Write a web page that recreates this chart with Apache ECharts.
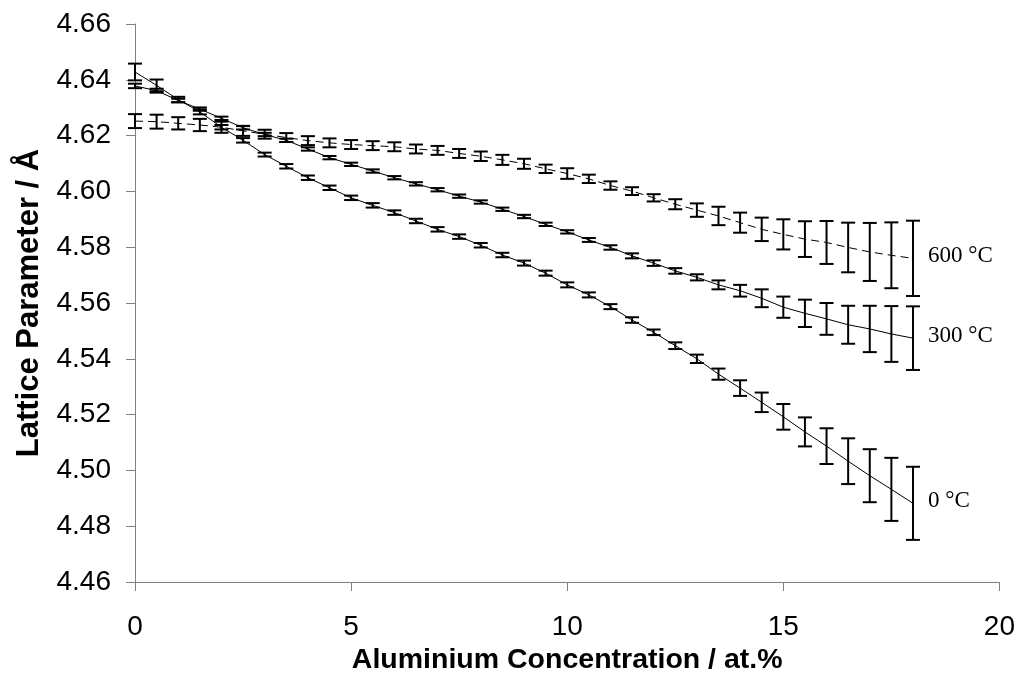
<!DOCTYPE html>
<html>
<head>
<meta charset="utf-8">
<script src="https://cdn.jsdelivr.net/npm/echarts@6/dist/echarts.min.js"></script>
<style>
  html, body { margin: 0; padding: 0; background: #ffffff; }
  #chart { width: 1018px; height: 688px; }
</style>
</head>
<body>
<div id="chart"></div>
<script>
// Aluminium concentration (at.%) of each sample
const concentration = [0, 0.5, 1, 1.5, 2, 2.5, 3, 3.5, 4, 4.5, 5, 5.5, 6, 6.5,
  7, 7.5, 8, 8.5, 9, 9.5, 10, 10.5, 11, 11.5, 12, 12.5, 13, 13.5,
  14, 14.5, 15, 15.5, 16, 16.5, 17, 17.5, 18];

// Lattice parameter (Å) at 0 °C and its uncertainty
const lattice0C = [4.6428, 4.6380, 4.6329, 4.6285, 4.6230, 4.6183, 4.6132, 4.6090, 4.6049, 4.6013, 4.5977, 4.5950, 4.5924, 4.5894,
  4.5864, 4.5838, 4.5807, 4.5772, 4.5743, 4.5707, 4.5665, 4.5629, 4.5587, 4.5539, 4.5495, 4.5447, 4.5400, 4.5345,
  4.5295, 4.5244, 4.5192, 4.5138, 4.5087, 4.5033, 4.4981, 4.4932, 4.4882];
const error0C = [0.0030, 0.0021, 0.0010, 0.0009, 0.0008, 0.0008, 0.0007, 0.0008, 0.0008, 0.0008, 0.0008, 0.0008, 0.0008, 0.0008,
  0.0008, 0.0008, 0.0008, 0.0008, 0.0009, 0.0009, 0.0009, 0.0009, 0.0009, 0.0010, 0.0010, 0.0012, 0.0015, 0.0020,
  0.0028, 0.0035, 0.0046, 0.0052, 0.0064, 0.0082, 0.0095, 0.0113, 0.0131];

// Lattice parameter (Å) at 300 °C and its uncertainty
const lattice300C = [4.6378, 4.6361, 4.6326, 4.6295, 4.6262, 4.6228, 4.6204, 4.6183, 4.6152, 4.6121, 4.6097, 4.6073, 4.6049, 4.6027,
  4.6006, 4.5983, 4.5962, 4.5936, 4.5910, 4.5882, 4.5855, 4.5826, 4.5799, 4.5769, 4.5743, 4.5715, 4.5692, 4.5665,
  4.5644, 4.5617, 4.5585, 4.5563, 4.5543, 4.5522, 4.5507, 4.5489, 4.5474];
const error300C = [0.0008, 0.0007, 0.0006, 0.0006, 0.0006, 0.0006, 0.0006, 0.0006, 0.0006, 0.0006, 0.0006, 0.0006, 0.0006, 0.0006,
  0.0006, 0.0006, 0.0006, 0.0006, 0.0006, 0.0006, 0.0006, 0.0007, 0.0008, 0.0009, 0.0010, 0.0010, 0.0011, 0.0016,
  0.0021, 0.0032, 0.0038, 0.0049, 0.0057, 0.0068, 0.0083, 0.0100, 0.0114];

// Lattice parameter (Å) at 600 °C and its uncertainty
const lattice600C = [4.6252, 4.6250, 4.6244, 4.6238, 4.6230, 4.6217, 4.6205, 4.6193, 4.6182, 4.6174, 4.6168, 4.6164, 4.6160, 4.6152,
  4.6147, 4.6136, 4.6126, 4.6113, 4.6099, 4.6081, 4.6064, 4.6045, 4.6021, 4.6001, 4.5977, 4.5954, 4.5933, 4.5912,
  4.5888, 4.5864, 4.5846, 4.5829, 4.5817, 4.5799, 4.5783, 4.5771, 4.5760];
const error600C = [0.0025, 0.0025, 0.0022, 0.0022, 0.0020, 0.0018, 0.0016, 0.0016, 0.0016, 0.0016, 0.0016, 0.0016, 0.0016, 0.0016,
  0.0016, 0.0016, 0.0017, 0.0018, 0.0018, 0.0015, 0.0019, 0.0015, 0.0015, 0.0014, 0.0013, 0.0018, 0.0024, 0.0033,
  0.0036, 0.0042, 0.0054, 0.0064, 0.0077, 0.0089, 0.0104, 0.0118, 0.0135];

const curveLabels = ['0 °C', '300 °C', '600 °C'];

const axisGrey = '#808080';
const sansFont = 'Liberation Sans, Arial, sans-serif';

function lineSeries(values, labelText, dashed) {
  return {
    type: 'line',
    data: concentration.map((x, i) => [x, values[i]]),
    showSymbol: false,
    symbol: 'none',
    silent: true,
    z: 2,
    lineStyle: { color: '#000', width: 1, type: dashed ? [8, 5] : 'solid' },
    endLabel: {
      show: true,
      distance: 15,
      offset: [0, -2],
      formatter: labelText,
      fontFamily: 'Liberation Serif, Times New Roman, serif',
      fontSize: 23,
      color: '#000'
    },
    emphasis: { disabled: true }
  };
}

function errorBars(values, errors) {
  return {
    type: 'custom',
    silent: true,
    z: 3,
    data: concentration.map((x, i) => [x, values[i] - errors[i], values[i] + errors[i]]),
    encode: { x: 0, y: [1, 2] },
    renderItem: function (params, api) {
      const x = api.value(0);
      const lo = api.coord([x, api.value(1)]);
      const hi = api.coord([x, api.value(2)]);
      const hw = 7;
      const style = { stroke: '#000', lineWidth: 2, fill: null };
      return {
        type: 'group',
        children: [
          { type: 'line', shape: { x1: lo[0], y1: lo[1], x2: hi[0], y2: hi[1] }, style: style },
          { type: 'line', shape: { x1: lo[0] - hw, y1: lo[1], x2: lo[0] + hw, y2: lo[1] }, style: style },
          { type: 'line', shape: { x1: hi[0] - hw, y1: hi[1], x2: hi[0] + hw, y2: hi[1] }, style: style }
        ]
      };
    }
  };
}

const chart = echarts.init(document.getElementById('chart'), null, { renderer: 'canvas' });

chart.setOption({
  animation: false,
  backgroundColor: '#ffffff',
  grid: { left: 135, right: 18, top: 24, bottom: 106, containLabel: false },
  xAxis: {
    type: 'value',
    min: 0, max: 20, interval: 5,
    name: 'Aluminium Concentration / at.%',
    nameLocation: 'middle',
    nameGap: 64,
    nameTextStyle: { fontFamily: sansFont, fontWeight: 'bold', fontSize: 28.5, color: '#000' },
    axisLine: { show: true, onZero: false, lineStyle: { color: axisGrey, width: 1 } },
    axisTick: { show: true, inside: false, length: 9, lineStyle: { color: axisGrey } },
    axisLabel: { fontFamily: sansFont, fontSize: 28, color: '#000', margin: 31 },
    splitLine: { show: false }
  },
  yAxis: {
    type: 'value',
    min: 4.46, max: 4.66, interval: 0.02,
    name: 'Lattice Parameter / Å',
    nameLocation: 'middle',
    nameGap: 90,
    nameTextStyle: { fontFamily: sansFont, fontWeight: 'bold', fontSize: 31, color: '#000' },
    axisLine: { show: true, onZero: false, lineStyle: { color: axisGrey, width: 1 } },
    axisTick: { show: true, inside: false, length: 9, lineStyle: { color: axisGrey } },
    axisLabel: {
      fontFamily: sansFont, fontSize: 28, color: '#000', margin: 24,
      formatter: v => v.toFixed(2)
    },
    splitLine: { show: false }
  },
  series: [
    lineSeries(lattice0C, curveLabels[0], false),
    lineSeries(lattice300C, curveLabels[1], false),
    lineSeries(lattice600C, curveLabels[2], true),
    errorBars(lattice0C, error0C),
    errorBars(lattice300C, error300C),
    errorBars(lattice600C, error600C)
  ]
});
</script>
</body>
</html>
